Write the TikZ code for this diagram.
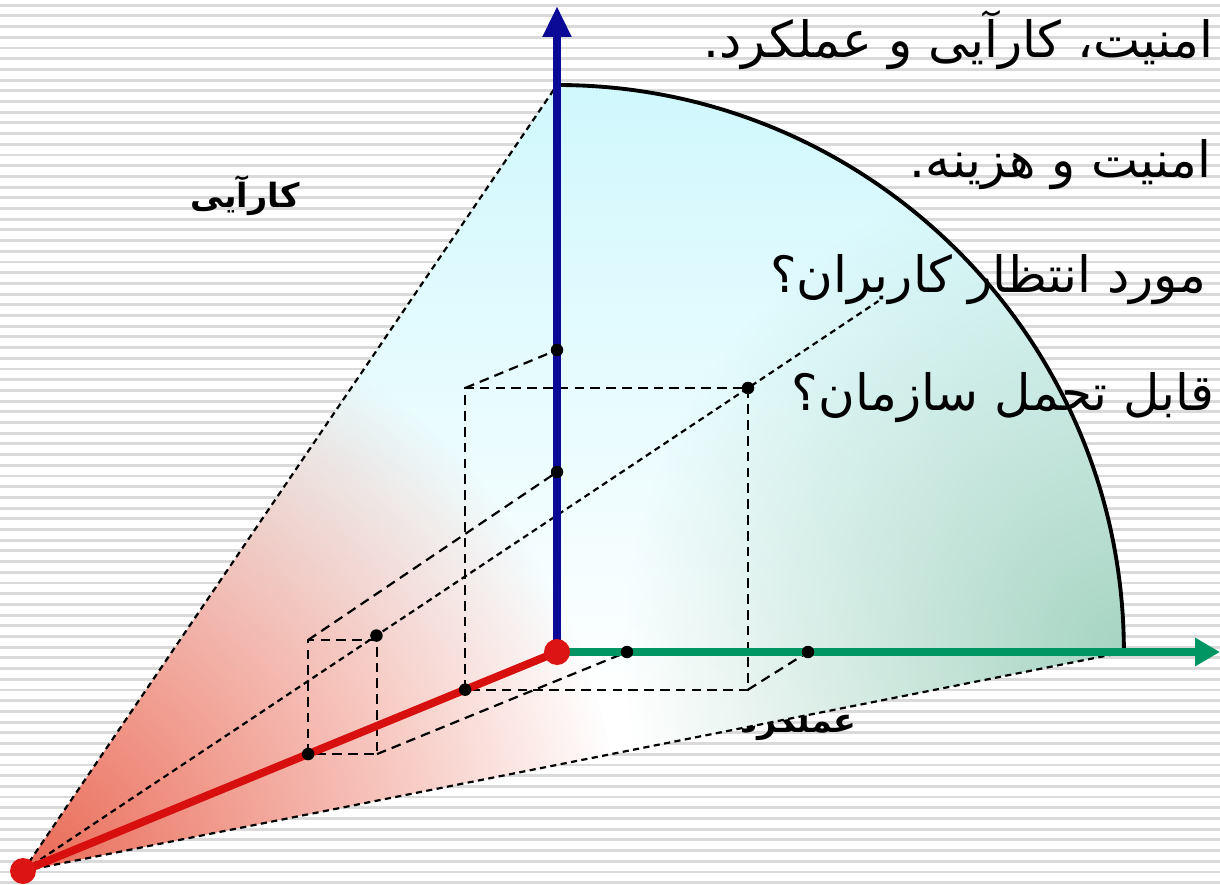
\documentclass[tikz,border=0pt]{standalone}
\usepackage{fontspec}
\newfontfamily\farsi[Script=Arabic]{DejaVu Sans}
\TeXXeTstate=1
\usetikzlibrary{arrows.meta,calc,fadings}

\definecolor{stripegray}{RGB}{218,218,218}
\definecolor{axisblue}{RGB}{10,10,150}
\definecolor{axisgreen}{RGB}{0,150,100}
\definecolor{axisred}{RGB}{215,15,15}
\definecolor{dotred}{RGB}{220,20,20}
\definecolor{topcyan}{RGB}{208,248,253}
\definecolor{conered}{RGB}{234,105,85}
\definecolor{conegreen}{RGB}{165,212,194}

\tikzfading[name=fade out, inner color=transparent!0, outer color=transparent!100]

\begin{document}
\begin{tikzpicture}[x=0.02cm, y=-0.02cm,
    stripe/.style={draw=stripegray, line width=1.6pt},
    boxline/.style={black, line width=1.25pt, dash pattern=on 5.5pt off 3.5pt},
    rayline/.style={black, line width=1.25pt, dash pattern=on 3.5pt off 2.5pt},
    dot/.style={circle, fill=black, inner sep=0pt, minimum size=0.25cm},
    reddot/.style={circle, fill=dotred, inner sep=0pt, minimum size=0.52cm},
    axis/.style={line width=5pt},
    axisarrow/.style={axis, -{Triangle[length=0.62cm, width=0.54cm]}},
    bodytext/.style={font=\farsi\fontsize{28.5}{34}\selectfont, anchor=base east, inner sep=0pt},
    axislabel/.style={font=\farsi\bfseries\fontsize{19}{22}\selectfont, inner sep=0pt}]

    \useasboundingbox (0,0) rectangle (1220,885);
    \fill[white] (0,0) rectangle (1220,885);
    \foreach \k in {0,...,82}
        \draw[stripe] (0,{5.2+10.7*\k}) -- (1220,{5.2+10.7*\k});

    % axis labels, partly hidden by the cone
    \node[axislabel] (usab) at (245,196) {\beginR کارآیی\endR};
    \node[axislabel, anchor=east] (perf) at (857,724) {\beginR عملکرد\endR};

    \coordinate (O) at (557,652);
    \coordinate (P) at (23,871);
    \coordinate (T) at (557,85);
    \coordinate (E) at (1125,652);
    \coordinate (bt) at (557,6);
    \coordinate (gt) at (1220,652);

    % shaded cone
    \begin{scope}
        \clip (P) -- (T) arc[start angle=90, end angle=0, radius=11.34cm] -- (E) -- cycle;
        \shade[top color=topcyan, middle color=white, bottom color=white] (0,85) rectangle (1220,700);
        \fill[white] (0,700) rectangle (1220,885);
        \fill[conered, path fading=fade out] (P) circle[radius=12cm];
        \fill[conegreen, path fading=fade out] (E) circle[radius=10cm];
    \end{scope}

    % points on the axes
    \coordinate (b1) at (557,350);
    \coordinate (b2) at (557,472);
    \coordinate (g1) at (627,652);
    \coordinate (g2) at (808,652);
    \coordinate (r1) at ($(O)!0.172!(P)$);
    \coordinate (r2) at ($(O)!0.466!(P)$);

    % boxes
    \coordinate (bTR) at (748,388);
    \coordinate (bTL) at (r1 |- bTR);
    \coordinate (bBR) at (bTR |- r1);
    \coordinate (sTR) at (377,640);
    \coordinate (sTL) at (r2 |- sTR);
    \coordinate (sBR) at (sTR |- r2);
    \coordinate (sdot) at ($(P)!0.4875!(bTR)$);

    \draw[rayline] (P) -- (T);
    \draw[rayline] (P) -- (E);
    \draw[rayline] (P) -- ($(P)!1.18!(bTR)$);

    \draw[boxline] (r1) -- (bTL) -- (bTR) -- (bBR) -- cycle;
    \draw[boxline] (r2) -- (sTL) -- (sTR) -- (sBR) -- cycle;
    \draw[boxline] (bTL) -- (b1);
    \draw[boxline] (bBR) -- (g2);
    \draw[boxline] (sTL) -- (b2);
    \draw[boxline] (sBR) -- (g1);

    \draw[line width=2.2pt] (T) arc[start angle=90, end angle=0, radius=11.34cm];

    \draw[axis, axisred, line width=4.5pt] (O) -- (P);
    \draw[axisarrow, axisblue] (O) -- (bt);
    \draw[axisarrow, axisgreen, -{Triangle[length=0.5cm, width=0.54cm]}] (O) -- (gt);

    \foreach \p in {b1,b2,g1,g2,r1,r2,sdot,bTR}
        \node[dot] (n\p) at (\p) {};
    \node[reddot] (origin) at (O) {};
    \node[reddot] (eye) at (P) {};

    \node[bodytext] (line1) at (1214,58) {\beginR امنیت، کارآیی و عملکرد.\endR};
    \node[bodytext] (line2) at (1212,178) {\beginR امنیت و هزینه.\endR};
    \node[bodytext] (line3) at (1207,293) {\beginR مورد انتظار کاربران؟\endR};
    \node[bodytext] (line4) at (1215,410) {\beginR قابل تحمل سازمان؟\endR};
\end{tikzpicture}
\end{document}
